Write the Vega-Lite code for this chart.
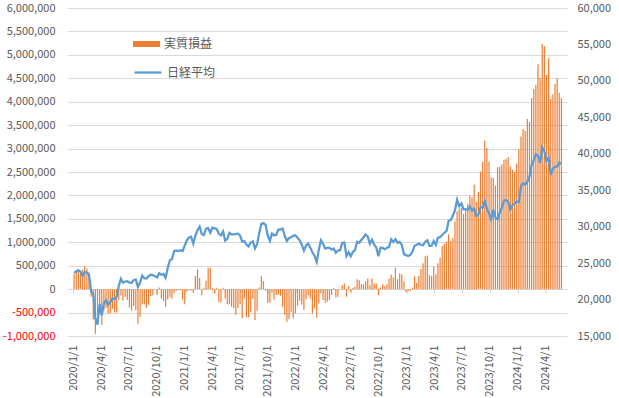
{
"$schema": "https://vega.github.io/schema/vega-lite/v6.json",
"width": 499, "height": 328,
"autosize": {"type": "none"},
"padding": {"left": 68, "top": 8, "right": 52, "bottom": 62},
"background": "white",
"config": {"font": "Noto Sans CJK JP", "view": {"stroke": null}, "axis": {"labelFont": "Noto Sans CJK JP", "labelFontSize": 11, "labelColor": "#595959"}, "legend": {"labelFont": "Noto Sans CJK JP", "labelFontSize": 12, "labelColor": "#595959", "padding": 0, "offset": 0}},
"data": {"values": [
{"date":"2020-01-03","pnl":330000,"nikkei":23657},
{"date":"2020-01-10","pnl":390000,"nikkei":23850},
{"date":"2020-01-17","pnl":420000,"nikkei":24041},
{"date":"2020-01-24","pnl":400000,"nikkei":23827},
{"date":"2020-01-31","pnl":420000,"nikkei":23205},
{"date":"2020-02-07","pnl":490000,"nikkei":23828},
{"date":"2020-02-14","pnl":440000,"nikkei":23688},
{"date":"2020-02-21","pnl":360000,"nikkei":23387},
{"date":"2020-02-28","pnl":-160000,"nikkei":21143},
{"date":"2020-03-06","pnl":-650000,"nikkei":20750},
{"date":"2020-03-13","pnl":-950000,"nikkei":17431},
{"date":"2020-03-20","pnl":-550000,"nikkei":16553},
{"date":"2020-03-27","pnl":-350000,"nikkei":19389},
{"date":"2020-04-03","pnl":-760000,"nikkei":17820},
{"date":"2020-04-10","pnl":-450000,"nikkei":19499},
{"date":"2020-04-17","pnl":-400000,"nikkei":19897},
{"date":"2020-04-24","pnl":-520000,"nikkei":19262},
{"date":"2020-05-01","pnl":-520000,"nikkei":19619},
{"date":"2020-05-08","pnl":-420000,"nikkei":20179},
{"date":"2020-05-15","pnl":-500000,"nikkei":20037},
{"date":"2020-05-22","pnl":-500000,"nikkei":20388},
{"date":"2020-05-29","pnl":-230000,"nikkei":21878},
{"date":"2020-06-05","pnl":-130000,"nikkei":22864},
{"date":"2020-06-12","pnl":-250000,"nikkei":22305},
{"date":"2020-06-19","pnl":-160000,"nikkei":22479},
{"date":"2020-06-26","pnl":-230000,"nikkei":22512},
{"date":"2020-07-03","pnl":-390000,"nikkei":22306},
{"date":"2020-07-10","pnl":-460000,"nikkei":22291},
{"date":"2020-07-17","pnl":-360000,"nikkei":22696},
{"date":"2020-07-24","pnl":-450000,"nikkei":22751},
{"date":"2020-07-31","pnl":-740000,"nikkei":21710},
{"date":"2020-08-07","pnl":-590000,"nikkei":22329},
{"date":"2020-08-14","pnl":-320000,"nikkei":23289},
{"date":"2020-08-21","pnl":-320000,"nikkei":22920},
{"date":"2020-08-28","pnl":-400000,"nikkei":22882},
{"date":"2020-09-04","pnl":-340000,"nikkei":23205},
{"date":"2020-09-11","pnl":-150000,"nikkei":23406},
{"date":"2020-09-18","pnl":-130000,"nikkei":23360},
{"date":"2020-09-25","pnl":-20000,"nikkei":23205},
{"date":"2020-10-02","pnl":-130000,"nikkei":23030},
{"date":"2020-10-09","pnl":35000,"nikkei":23620},
{"date":"2020-10-16","pnl":-200000,"nikkei":23411},
{"date":"2020-10-23","pnl":-255000,"nikkei":23517},
{"date":"2020-10-30","pnl":-375000,"nikkei":22977},
{"date":"2020-11-06","pnl":-220000,"nikkei":24325},
{"date":"2020-11-13","pnl":-175000,"nikkei":25385},
{"date":"2020-11-20","pnl":-200000,"nikkei":25527},
{"date":"2020-11-27","pnl":-90000,"nikkei":26644},
{"date":"2020-12-04","pnl":-35000,"nikkei":26751},
{"date":"2020-12-11","pnl":-20000,"nikkei":26652},
{"date":"2020-12-18","pnl":-20000,"nikkei":26763},
{"date":"2020-12-25","pnl":-220000,"nikkei":26656},
{"date":"2021-01-01","pnl":-320000,"nikkei":27444},
{"date":"2021-01-08","pnl":-57000,"nikkei":28139},
{"date":"2021-01-15","pnl":-20000,"nikkei":28519},
{"date":"2021-01-22","pnl":-30000,"nikkei":28631},
{"date":"2021-01-29","pnl":-80000,"nikkei":27663},
{"date":"2021-02-05","pnl":280000,"nikkei":28779},
{"date":"2021-02-12","pnl":425000,"nikkei":29520},
{"date":"2021-02-19","pnl":240000,"nikkei":30018},
{"date":"2021-02-26","pnl":-130000,"nikkei":28966},
{"date":"2021-03-05","pnl":28000,"nikkei":28864},
{"date":"2021-03-12","pnl":177000,"nikkei":29717},
{"date":"2021-03-19","pnl":455000,"nikkei":29792},
{"date":"2021-03-26","pnl":455000,"nikkei":29176},
{"date":"2021-04-02","pnl":28000,"nikkei":29854},
{"date":"2021-04-09","pnl":-90000,"nikkei":29768},
{"date":"2021-04-16","pnl":28000,"nikkei":29683},
{"date":"2021-04-23","pnl":-270000,"nikkei":29020},
{"date":"2021-04-30","pnl":-290000,"nikkei":28813},
{"date":"2021-05-07","pnl":28000,"nikkei":29358},
{"date":"2021-05-14","pnl":-200000,"nikkei":28084},
{"date":"2021-05-21","pnl":-325000,"nikkei":28318},
{"date":"2021-05-28","pnl":-320000,"nikkei":29149},
{"date":"2021-06-04","pnl":-375000,"nikkei":28942},
{"date":"2021-06-11","pnl":-410000,"nikkei":28949},
{"date":"2021-06-18","pnl":-550000,"nikkei":28964},
{"date":"2021-06-25","pnl":-400000,"nikkei":29066},
{"date":"2021-07-02","pnl":-320000,"nikkei":28783},
{"date":"2021-07-09","pnl":-625000,"nikkei":27940},
{"date":"2021-07-16","pnl":-200000,"nikkei":28003},
{"date":"2021-07-23","pnl":-600000,"nikkei":27548},
{"date":"2021-07-30","pnl":-600000,"nikkei":27284},
{"date":"2021-08-06","pnl":-480000,"nikkei":27820},
{"date":"2021-08-13","pnl":-210000,"nikkei":27977},
{"date":"2021-08-20","pnl":-660000,"nikkei":27013},
{"date":"2021-08-27","pnl":-460000,"nikkei":27641},
{"date":"2021-09-03","pnl":35000,"nikkei":29128},
{"date":"2021-09-10","pnl":277000,"nikkei":30382},
{"date":"2021-09-17","pnl":170000,"nikkei":30500},
{"date":"2021-09-24","pnl":-35000,"nikkei":30249},
{"date":"2021-10-01","pnl":-290000,"nikkei":28771},
{"date":"2021-10-08","pnl":-290000,"nikkei":28049},
{"date":"2021-10-15","pnl":-78000,"nikkei":29069},
{"date":"2021-10-22","pnl":-220000,"nikkei":28805},
{"date":"2021-10-29","pnl":-128000,"nikkei":28893},
{"date":"2021-11-05","pnl":-113000,"nikkei":29612},
{"date":"2021-11-12","pnl":-142000,"nikkei":29610},
{"date":"2021-11-19","pnl":-376000,"nikkei":29746},
{"date":"2021-11-26","pnl":-553000,"nikkei":28752},
{"date":"2021-12-03","pnl":-695000,"nikkei":28030},
{"date":"2021-12-10","pnl":-645000,"nikkei":28437},
{"date":"2021-12-17","pnl":-482000,"nikkei":28546},
{"date":"2021-12-24","pnl":-624000,"nikkei":28782},
{"date":"2021-12-31","pnl":-518000,"nikkei":28792},
{"date":"2022-01-07","pnl":-355000,"nikkei":28479},
{"date":"2022-01-14","pnl":-248000,"nikkei":28124},
{"date":"2022-01-21","pnl":-330000,"nikkei":27522},
{"date":"2022-01-28","pnl":-447000,"nikkei":26717},
{"date":"2022-02-04","pnl":-220000,"nikkei":27440},
{"date":"2022-02-11","pnl":-128000,"nikkei":27696},
{"date":"2022-02-18","pnl":-199000,"nikkei":27122},
{"date":"2022-02-25","pnl":-518000,"nikkei":26477},
{"date":"2022-03-04","pnl":-411000,"nikkei":25985},
{"date":"2022-03-11","pnl":-610000,"nikkei":25163},
{"date":"2022-03-18","pnl":-305000,"nikkei":26827},
{"date":"2022-03-25","pnl":-92000,"nikkei":28150},
{"date":"2022-04-01","pnl":-234000,"nikkei":27666},
{"date":"2022-04-08","pnl":-291000,"nikkei":26986},
{"date":"2022-04-15","pnl":-270000,"nikkei":27093},
{"date":"2022-04-22","pnl":-234000,"nikkei":27105},
{"date":"2022-04-29","pnl":-128000,"nikkei":26848},
{"date":"2022-05-06","pnl":28000,"nikkei":27004},
{"date":"2022-05-13","pnl":-177000,"nikkei":26428},
{"date":"2022-05-20","pnl":-163000,"nikkei":26739},
{"date":"2022-05-27","pnl":-15000,"nikkei":26782},
{"date":"2022-06-03","pnl":85000,"nikkei":27762},
{"date":"2022-06-10","pnl":120000,"nikkei":27824},
{"date":"2022-06-17","pnl":-163000,"nikkei":25963},
{"date":"2022-06-24","pnl":64000,"nikkei":26491},
{"date":"2022-07-01","pnl":-60000,"nikkei":25936},
{"date":"2022-07-08","pnl":28000,"nikkei":26517},
{"date":"2022-07-15","pnl":50000,"nikkei":26788},
{"date":"2022-07-22","pnl":213000,"nikkei":27915},
{"date":"2022-07-29","pnl":191000,"nikkei":27802},
{"date":"2022-08-05","pnl":106000,"nikkei":28176},
{"date":"2022-08-12","pnl":106000,"nikkei":28547},
{"date":"2022-08-19","pnl":170000,"nikkei":28931},
{"date":"2022-08-26","pnl":227000,"nikkei":28642},
{"date":"2022-09-02","pnl":85000,"nikkei":27651},
{"date":"2022-09-09","pnl":227000,"nikkei":28215},
{"date":"2022-09-16","pnl":120000,"nikkei":27568},
{"date":"2022-09-23","pnl":120000,"nikkei":27154},
{"date":"2022-09-30","pnl":-128000,"nikkei":25937},
{"date":"2022-10-07","pnl":35000,"nikkei":27116},
{"date":"2022-10-14","pnl":106000,"nikkei":27091},
{"date":"2022-10-21","pnl":64000,"nikkei":26891},
{"date":"2022-10-28","pnl":106000,"nikkei":27105},
{"date":"2022-11-04","pnl":227000,"nikkei":27199},
{"date":"2022-11-11","pnl":312000,"nikkei":28264},
{"date":"2022-11-18","pnl":248000,"nikkei":27900},
{"date":"2022-11-25","pnl":461000,"nikkei":28283},
{"date":"2022-12-02","pnl":213000,"nikkei":27778},
{"date":"2022-12-09","pnl":333000,"nikkei":27901},
{"date":"2022-12-16","pnl":312000,"nikkei":27527},
{"date":"2022-12-23","pnl":170000,"nikkei":26235},
{"date":"2022-12-30","pnl":-70000,"nikkei":26095},
{"date":"2023-01-06","pnl":-35000,"nikkei":25974},
{"date":"2023-01-13","pnl":-35000,"nikkei":26120},
{"date":"2023-01-20","pnl":35000,"nikkei":26554},
{"date":"2023-01-27","pnl":277000,"nikkei":27383},
{"date":"2023-02-03","pnl":130000,"nikkei":27509},
{"date":"2023-02-10","pnl":280000,"nikkei":27671},
{"date":"2023-02-17","pnl":430000,"nikkei":27514},
{"date":"2023-02-24","pnl":550000,"nikkei":27454},
{"date":"2023-03-03","pnl":700000,"nikkei":27927},
{"date":"2023-03-10","pnl":720000,"nikkei":28144},
{"date":"2023-03-17","pnl":300000,"nikkei":27334},
{"date":"2023-03-24","pnl":280000,"nikkei":27385},
{"date":"2023-03-31","pnl":480000,"nikkei":28041},
{"date":"2023-04-07","pnl":320000,"nikkei":27518},
{"date":"2023-04-14","pnl":550000,"nikkei":28493},
{"date":"2023-04-21","pnl":670000,"nikkei":28564},
{"date":"2023-04-28","pnl":920000,"nikkei":28856},
{"date":"2023-05-05","pnl":970000,"nikkei":29158},
{"date":"2023-05-12","pnl":1020000,"nikkei":29388},
{"date":"2023-05-19","pnl":1170000,"nikkei":30808},
{"date":"2023-05-26","pnl":1020000,"nikkei":30916},
{"date":"2023-06-02","pnl":1090000,"nikkei":31524},
{"date":"2023-06-09","pnl":1450000,"nikkei":32265},
{"date":"2023-06-16","pnl":1660000,"nikkei":33706},
{"date":"2023-06-23","pnl":1720000,"nikkei":32782},
{"date":"2023-06-30","pnl":1730000,"nikkei":33189},
{"date":"2023-07-07","pnl":1600000,"nikkei":32389},
{"date":"2023-07-14","pnl":1680000,"nikkei":32391},
{"date":"2023-07-21","pnl":1820000,"nikkei":32304},
{"date":"2023-07-28","pnl":2000000,"nikkei":32759},
{"date":"2023-08-04","pnl":1960000,"nikkei":32193},
{"date":"2023-08-11","pnl":2230000,"nikkei":32474},
{"date":"2023-08-18","pnl":1860000,"nikkei":31451},
{"date":"2023-08-25","pnl":2070000,"nikkei":31625},
{"date":"2023-09-01","pnl":2510000,"nikkei":32711},
{"date":"2023-09-08","pnl":2720000,"nikkei":32607},
{"date":"2023-09-15","pnl":3170000,"nikkei":33534},
{"date":"2023-09-22","pnl":3010000,"nikkei":32403},
{"date":"2023-09-29","pnl":2720000,"nikkei":31858},
{"date":"2023-10-06","pnl":2390000,"nikkei":30995},
{"date":"2023-10-13","pnl":2370000,"nikkei":32316},
{"date":"2023-10-20","pnl":2210000,"nikkei":31260},
{"date":"2023-10-27","pnl":2600000,"nikkei":30992},
{"date":"2023-11-03","pnl":2620000,"nikkei":31950},
{"date":"2023-11-10","pnl":2660000,"nikkei":32568},
{"date":"2023-11-17","pnl":2760000,"nikkei":33586},
{"date":"2023-11-24","pnl":2780000,"nikkei":33626},
{"date":"2023-12-01","pnl":2820000,"nikkei":33432},
{"date":"2023-12-08","pnl":2620000,"nikkei":32308},
{"date":"2023-12-15","pnl":2550000,"nikkei":32971},
{"date":"2023-12-22","pnl":2500000,"nikkei":33170},
{"date":"2023-12-29","pnl":2680000,"nikkei":33464},
{"date":"2024-01-05","pnl":2980000,"nikkei":33378},
{"date":"2024-01-12","pnl":3260000,"nikkei":35578},
{"date":"2024-01-19","pnl":3420000,"nikkei":35964},
{"date":"2024-01-26","pnl":3380000,"nikkei":35752},
{"date":"2024-02-02","pnl":3630000,"nikkei":36158},
{"date":"2024-02-09","pnl":3570000,"nikkei":36897},
{"date":"2024-02-16","pnl":4080000,"nikkei":38488},
{"date":"2024-02-23","pnl":4270000,"nikkei":39099},
{"date":"2024-03-01","pnl":4360000,"nikkei":39911},
{"date":"2024-03-08","pnl":4800000,"nikkei":39689},
{"date":"2024-03-15","pnl":4510000,"nikkei":38708},
{"date":"2024-03-22","pnl":5230000,"nikkei":40889},
{"date":"2024-03-29","pnl":5190000,"nikkei":40369},
{"date":"2024-04-05","pnl":4570000,"nikkei":38992},
{"date":"2024-04-12","pnl":4930000,"nikkei":39524},
{"date":"2024-04-19","pnl":4060000,"nikkei":37068},
{"date":"2024-04-26","pnl":4160000,"nikkei":37935},
{"date":"2024-05-03","pnl":4380000,"nikkei":38236},
{"date":"2024-05-10","pnl":4500000,"nikkei":38229},
{"date":"2024-05-17","pnl":4190000,"nikkei":38787},
{"date":"2024-05-24","pnl":4080000,"nikkei":38647}
]},
"layer": [
{
"mark": {"type": "bar", "width": 1.2},
"encoding": {
"x": {"field": "date", "type": "temporal",
 "scale": {"type": "utc", "domain": [{"year": 2019, "month": 12, "date": 30, "hours": 9, "utc": true}, {"year": 2024, "month": 5, "date": 26, "utc": true}]},
 "axis": {"orient": "bottom", "title": null, "format": "%Y/%-m/%-d", "labelAngle": 270, "labelPadding": 9, "ticks": false, "tickSize": 0, "domain": false, "grid": false, "labelOverlap": false, "labelFlush": false, "labelBound": false,
  "values": [{"year":2020,"month":1,"date":1,"utc":true},{"year":2020,"month":4,"date":1,"utc":true},{"year":2020,"month":7,"date":1,"utc":true},{"year":2020,"month":10,"date":1,"utc":true},{"year":2021,"month":1,"date":1,"utc":true},{"year":2021,"month":4,"date":1,"utc":true},{"year":2021,"month":7,"date":1,"utc":true},{"year":2021,"month":10,"date":1,"utc":true},{"year":2022,"month":1,"date":1,"utc":true},{"year":2022,"month":4,"date":1,"utc":true},{"year":2022,"month":7,"date":1,"utc":true},{"year":2022,"month":10,"date":1,"utc":true},{"year":2023,"month":1,"date":1,"utc":true},{"year":2023,"month":4,"date":1,"utc":true},{"year":2023,"month":7,"date":1,"utc":true},{"year":2023,"month":10,"date":1,"utc":true},{"year":2024,"month":1,"date":1,"utc":true},{"year":2024,"month":4,"date":1,"utc":true}]}},
"y": {"field": "pnl", "type": "quantitative",
 "scale": {"domain": [-1000000, 6000000], "nice": false, "zero": false},
 "axis": {"title": null, "grid": true, "gridColor": "#D9D9D9", "gridWidth": 1, "domain": false, "ticks": false, "tickSize": 0, "labelPadding": 13,
  "values": [-1000000,-500000,0,500000,1000000,1500000,2000000,2500000,3000000,3500000,4000000,4500000,5000000,5500000,6000000],
  "labelExpr": "(datum.value < 0 ? '-' : '') + format(abs(datum.value), ',')",
  "labelColor": {"condition": {"test": "datum.value < 0", "value": "#FF0000"}, "value": "#595959"}}},
"fill": {"datum": "実質損益", "type": "nominal", "scale": {"range": ["#ED7D31"]},
 "legend": {"title": null, "orient": "none", "legendX": 65, "legendY": 22.5, "symbolType": "M-1,-0.22H1V0.22H-1Z", "symbolSize": 729, "symbolStrokeWidth": 0, "labelOffset": 4, "labelLimit": 200}}
}
},
{
"mark": {"type": "line", "strokeWidth": 2.25},
"encoding": {
"x": {"field": "date", "type": "temporal",
 "axis": {"orient": "bottom", "offset": -47, "title": null, "labels": false, "ticks": true, "tickSize": 4, "tickColor": "#D9D9D9", "tickWidth": 1, "domain": true, "domainColor": "#D9D9D9", "domainWidth": 1, "grid": false,
  "values": [{"year":2020,"month":1,"date":1,"utc":true},{"year":2020,"month":4,"date":1,"utc":true},{"year":2020,"month":7,"date":1,"utc":true},{"year":2020,"month":10,"date":1,"utc":true},{"year":2021,"month":1,"date":1,"utc":true},{"year":2021,"month":4,"date":1,"utc":true},{"year":2021,"month":7,"date":1,"utc":true},{"year":2021,"month":10,"date":1,"utc":true},{"year":2022,"month":1,"date":1,"utc":true},{"year":2022,"month":4,"date":1,"utc":true},{"year":2022,"month":7,"date":1,"utc":true},{"year":2022,"month":10,"date":1,"utc":true},{"year":2023,"month":1,"date":1,"utc":true},{"year":2023,"month":4,"date":1,"utc":true},{"year":2023,"month":7,"date":1,"utc":true},{"year":2023,"month":10,"date":1,"utc":true},{"year":2024,"month":1,"date":1,"utc":true},{"year":2024,"month":4,"date":1,"utc":true}]}},
"y": {"field": "nikkei", "type": "quantitative",
 "scale": {"domain": [15000, 60000], "nice": false, "zero": false},
 "axis": {"orient": "right", "title": null, "grid": false, "domain": false, "ticks": false, "tickSize": 0, "labelPadding": 10,
  "labelExpr": "format(datum.value, ',')",
  "values": [15000,20000,25000,30000,35000,40000,45000,50000,55000,60000]}},
"stroke": {"datum": "日経平均", "type": "nominal", "scale": {"range": ["#5B9BD5"]},
 "legend": {"title": null, "orient": "none", "legendX": 65, "legendY": 49.5, "symbolType": "stroke", "symbolSize": 729, "symbolStrokeWidth": 2.25, "labelOffset": 4, "labelLimit": 200}}
}
}
],
"resolve": {"scale": {"y": "independent", "fill": "independent", "stroke": "independent"}, "axis": {"x": "independent", "y": "independent"}}
}
